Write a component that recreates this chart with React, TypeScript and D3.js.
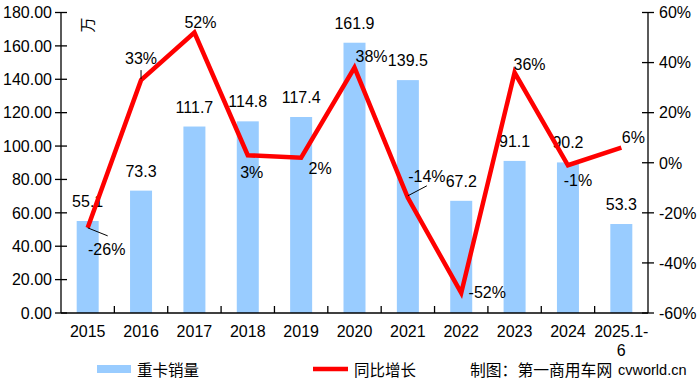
import React from "react";
import * as d3 from "d3";

const categories = ["2015", "2016", "2017", "2018", "2019", "2020", "2021", "2022", "2023", "2024", "2025.1-6"];
const salesValues = [55.1, 73.3, 111.7, 114.8, 117.4, 161.9, 139.5, 67.2, 91.1, 90.2, 53.3];
const growthValues = [-26, 33, 52, 3, 2, 38, -14, -52, 36, -1, 6];
const leftTicks = [0, 20, 40, 60, 80, 100, 120, 140, 160, 180];
const rightTicks = [-60, -40, -20, 0, 20, 40, 60];
const seriesNames = ["重卡销量", "同比增长"];
const unitLabel = "万";
const creditText = "制图：第一商用车网";
const creditSite = "cvworld.cn";

// layout for growth labels (offset of label centre from its point), leader flags
const growthLabelLayout: [number, number, boolean][] = [
  [19, 21, true], [0, -22, true], [6, -10, false], [4, 17, false], [19, 10, false],
  [17, -11, false], [19, -22, true], [26, -1, false], [15, -8, false], [10, 15, false], [12, -10, false],
];

const W = 698, H = 383;
const X0 = 61, X1 = 648, Y0 = 313, Y1 = 12.5;
const BLUE = "#99CCFF";
const RED = "#FF0000";
const FONT = "'Liberation Sans', Arial, sans-serif";
const CJK = "'Noto Sans CJK SC', sans-serif";

export default function App() {
  const x = d3.scalePoint<string>().domain(categories).range([X0, X1]).padding(0.5);
  const step = x.step();
  const yL = d3.scaleLinear().domain([0, 180]).range([Y0, Y1]);
  const yR = d3.scaleLinear().domain([-60, 60]).range([Y0, Y1]);
  const barW = 22;
  const line = d3.line<number>().x((_, i) => x(categories[i])!).y((d) => yR(d));
  const boundaries = d3.range(1, categories.length).map((i) => X0 + step * i);

  return (
    <svg width={W} height={H} style={{ position: "fixed", left: 0, top: 0, background: "#fff" }}>
      <rect width={W} height={H} fill="#fff" />
      {/* bars */}
      {salesValues.map((v, i) => (
        <rect key={"b" + i} x={x(categories[i])! - barW / 2} y={yL(v)} width={barW} height={Y0 - yL(v)} fill={BLUE} />
      ))}
      {/* bar labels */}
      {salesValues.map((v, i) => (
        <text key={"bl" + i} x={x(categories[i])!} y={yL(v) - 14} textAnchor="middle" fontFamily={FONT} fontSize={16} fill="#000">
          {v.toFixed(1)}
        </text>
      ))}
      {/* axes */}
      <line x1={X0} x2={X0} y1={Y1} y2={Y0} stroke="#000" strokeWidth={1.3} />
      <line x1={X1} x2={X1} y1={Y1} y2={Y0} stroke="#000" strokeWidth={1.3} />
      <line x1={X0} x2={X1} y1={Y0} y2={Y0} stroke="#000" strokeWidth={1.3} />
      {leftTicks.map((t) => (
        <g key={"lt" + t}>
          <line x1={X0 - 6} x2={X0 + 6} y1={yL(t)} y2={yL(t)} stroke="#000" strokeWidth={1.3} />
          <text x={52} y={yL(t)} dy="0.36em" textAnchor="end" fontFamily={FONT} fontSize={16} fill="#000">
            {t.toFixed(2)}
          </text>
        </g>
      ))}
      {rightTicks.map((t) => (
        <g key={"rt" + t}>
          <line x1={X1 - 6} x2={X1 + 6} y1={yR(t)} y2={yR(t)} stroke="#000" strokeWidth={1.3} />
          <text x={659} y={yR(t)} dy="0.36em" textAnchor="start" fontFamily={FONT} fontSize={16} fill="#000">
            {t + "%"}
          </text>
        </g>
      ))}
      {boundaries.map((bx, i) => (
        <line key={"xt" + i} x1={bx} x2={bx} y1={Y0 - 7} y2={Y0} stroke="#000" strokeWidth={1.3} />
      ))}
      {categories.map((c, i) => {
        const parts = c === "2025.1-6" ? ["2025.1-", "6"] : [c];
        return (
          <text key={"xl" + i} x={x(c)!} y={337} textAnchor="middle" fontFamily={FONT} fontSize={16} fill="#000">
            {parts.map((p, j) => (
              <tspan key={j} x={x(c)!} dy={j === 0 ? 0 : 19}>{p}</tspan>
            ))}
          </text>
        );
      })}
      {/* unit label */}
      <text transform="translate(88,25) rotate(-90)" textAnchor="middle" dy="0.35em" fontFamily={CJK} fontSize={15} fill="#000">
        {unitLabel}
      </text>
      {/* growth line */}
      <path d={line(growthValues)!} fill="none" stroke={RED} strokeWidth={4.5} strokeLinejoin="miter" />
      {/* growth labels */}
      {growthValues.map((v, i) => {
        const px = x(categories[i])!;
        const py = yR(v);
        const [dx, dy, leader] = growthLabelLayout[i];
        const cx = px + dx, cy = py + dy;
        let lead = null;
        if (leader) {
          if (dx === 0) {
            lead = <line x1={px} y1={py - 1} x2={px} y2={cy + 12} stroke="#000" strokeWidth={1} />;
          } else if (dy > 0) {
            lead = <line x1={px} y1={py} x2={cx + 1} y2={cy - 13} stroke="#000" strokeWidth={1} />;
          } else {
            lead = <line x1={px} y1={py - 2} x2={cx} y2={cy + 10} stroke="#000" strokeWidth={1} />;
          }
        }
        return (
          <g key={"gl" + i}>
            {lead}
            <text x={cx} y={cy} dy="0.36em" textAnchor="middle" fontFamily={FONT} fontSize={16} fill="#000">
              {v + "%"}
            </text>
          </g>
        );
      })}
      {/* legend */}
      <rect x={97} y={365} width={34} height={8} fill={BLUE} />
      <text x={137} y={376} fontFamily={CJK} fontSize={15.5} fill="#000">{seriesNames[0]}</text>
      <line x1={313} x2={348} y1={369} y2={369} stroke={RED} strokeWidth={4.5} />
      <text x={354} y={376} fontFamily={CJK} fontSize={15.5} fill="#000">{seriesNames[1]}</text>
      <text x={470} y={376} fontFamily={CJK} fontSize={15.8} fill="#000">{creditText}</text>
      <text x={618} y={375} fontFamily={FONT} fontSize={14.5} fill="#000">{creditSite}</text>
    </svg>
  );
}
